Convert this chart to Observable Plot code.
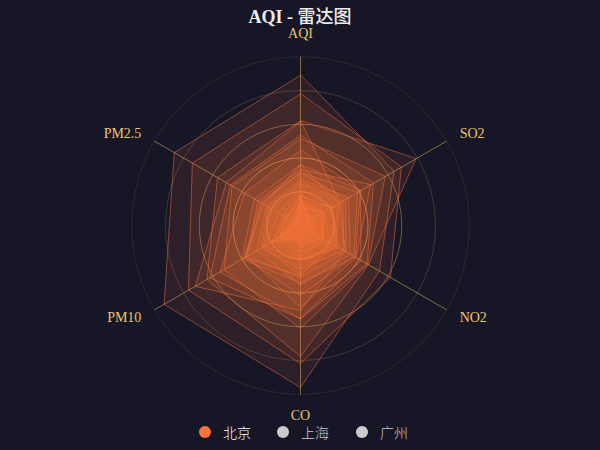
<!DOCTYPE html>
<html><head><meta charset="utf-8">
<script src="https://cdn.jsdelivr.net/npm/d3@7"></script>
<script src="https://cdn.jsdelivr.net/npm/@observablehq/plot@0.6"></script>
<style>
html,body{margin:0;padding:0;background:#161627;}
#wrap{width:600px;height:450px;background:#161627;overflow:hidden;font-family:"Liberation Serif","Noto Sans CJK SC",serif;}
#title{height:28px;box-sizing:border-box;padding-top:2px;line-height:26px;text-align:center;font-size:18px;font-weight:bold;color:#eee;}
#title .lat{font-family:"Liberation Serif",serif;}
#title .cjk{font-family:"Noto Sans CJK SC",sans-serif;font-weight:500;}
#chart svg{display:block;}
#legend{height:28px;position:relative;}
.item{position:absolute;top:0;height:20px;line-height:20px;font-size:14px;font-family:"Noto Sans CJK SC","Liberation Serif",sans-serif;font-weight:300;white-space:nowrap;}
.sw{position:absolute;top:4px;width:12px;height:12px;border-radius:50%;}
</style></head><body>
<div id="wrap"><div id="title"><span class="lat">AQI - </span><span class="cjk">雷达图</span></div><div id="chart"></div><div id="legend"></div></div>
<script>
const indicators = ["AQI", "PM2.5", "PM10", "CO", "NO2", "SO2"];
const indicatorMax = [300, 250, 300, 5, 200, 100];
const seriesNames = ["北京", "上海", "广州"];
const seriesColors = ["#F9713C", "#B3E4A1", "rgb(238, 197, 102)"];
const selectedSeries = "北京";
// AQI, PM2.5, PM10, CO, NO2, SO2, day
const dataBJ = [
  [55, 9, 56, 0.46, 18, 6, 1],
  [25, 11, 21, 0.65, 34, 9, 2],
  [56, 7, 63, 0.3, 14, 5, 3],
  [33, 7, 29, 0.33, 16, 6, 4],
  [42, 24, 44, 0.76, 40, 16, 5],
  [82, 58, 90, 1.77, 68, 33, 6],
  [74, 49, 77, 1.46, 48, 27, 7],
  [78, 55, 80, 1.29, 59, 29, 8],
  [267, 216, 280, 4.8, 108, 64, 9],
  [185, 127, 216, 2.52, 61, 27, 10],
  [39, 19, 38, 0.57, 31, 15, 11],
  [41, 11, 40, 0.43, 21, 7, 12],
  [64, 38, 74, 1.04, 46, 22, 13],
  [108, 79, 120, 1.7, 75, 41, 14],
  [108, 63, 116, 1.48, 44, 26, 15],
  [33, 6, 29, 0.34, 13, 5, 16],
  [94, 66, 110, 1.54, 62, 31, 17],
  [186, 142, 192, 3.88, 93, 79, 18],
  [57, 31, 54, 0.96, 32, 14, 19],
  [22, 8, 17, 0.48, 23, 10, 20],
  [39, 15, 36, 0.61, 29, 13, 21],
  [94, 69, 114, 2.08, 73, 39, 22],
  [99, 73, 110, 2.43, 76, 48, 23],
  [31, 12, 30, 0.5, 32, 16, 24],
  [42, 27, 43, 1, 53, 22, 25],
  [154, 117, 157, 3.05, 92, 58, 26],
  [234, 185, 230, 4.09, 123, 69, 27],
  [160, 120, 186, 2.77, 91, 50, 28],
  [134, 96, 165, 2.76, 83, 41, 29],
  [52, 24, 60, 1.03, 50, 21, 30],
  [46, 5, 49, 0.28, 10, 6, 31]
];
const splitLevels = [0.2, 0.4, 0.6, 0.8, 1.0];
const splitOpacities = [0.8, 0.6, 0.4, 0.2, 0.1];

const W = 600, H = 394, cx = 300, cy = 197, R = 168.75, nameGap = 15;
const angle = i => Math.PI / 2 + i * Math.PI / 3;
const points = [];
dataBJ.forEach(row => indicators.forEach((name, i) => points.push({day: row[6], i, v: row[i] / indicatorMax[i]})));
const axes = indicators.map((name, i) => ({name, i, a: angle(i)}));
const lr = (R + nameGap) / R;
const lx = d => lr * Math.cos(d.a), ly = d => lr * Math.sin(d.a);
const labelStyle = {fill: "rgb(238, 197, 102)", fontSize: 14, fontFamily: "Liberation Serif"};

const chart = Plot.plot({
  width: W, height: H, margin: 0,
  style: {background: "transparent", overflow: "visible"},
  x: {domain: [-1, 1], range: [cx - R, cx + R], axis: null},
  y: {domain: [-1, 1], range: [cy + R, cy - R], axis: null},
  r: {type: "linear", domain: [0, 1], range: [0, R]},
  marks: [
    Plot.dot(splitLevels, {x: 0, y: 0, r: d => d, stroke: (d, k) => `rgba(238, 197, 102, ${splitOpacities[k]})`, fill: "none", strokeWidth: 1}),
    Plot.link(axes, {x1: 0, y1: 0, x2: d => Math.cos(d.a), y2: d => Math.sin(d.a), stroke: "rgba(238, 197, 102, 0.5)", strokeWidth: 1}),
    Plot.line(points, {
      x: d => d.v * Math.cos(angle(d.i)), y: d => d.v * Math.sin(angle(d.i)), z: "day",
      curve: "linear-closed", stroke: "#F9713C", strokeOpacity: 0.5, strokeWidth: 1,
      fill: "#F9713C", fillOpacity: 0.1
    }),
    Plot.text(axes.filter(d => Math.cos(d.a) > 0.01), {x: lx, y: ly, text: "name", textAnchor: "start", lineAnchor: "middle", ...labelStyle}),
    Plot.text(axes.filter(d => Math.cos(d.a) < -0.01), {x: lx, y: ly, text: "name", textAnchor: "end", lineAnchor: "middle", ...labelStyle}),
    Plot.text(axes.filter(d => Math.abs(Math.cos(d.a)) <= 0.01 && Math.sin(d.a) > 0), {x: lx, y: ly, text: "name", textAnchor: "middle", lineAnchor: "bottom", dy: -4, ...labelStyle}),
    Plot.text(axes.filter(d => Math.abs(Math.cos(d.a)) <= 0.01 && Math.sin(d.a) < 0), {x: lx, y: ly, text: "name", textAnchor: "middle", lineAnchor: "top", dy: 1, ...labelStyle})
  ]
});
document.getElementById("chart").appendChild(chart);

const legend = document.getElementById("legend");
const iconLeft = [199, 277, 356];
seriesNames.forEach((name, k) => {
  const on = name === selectedSeries;
  const sw = document.createElement("div");
  sw.className = "sw";
  sw.style.left = iconLeft[k] + "px";
  sw.style.background = on ? seriesColors[k] : "#ccc";
  legend.appendChild(sw);
  const t = document.createElement("div");
  t.className = "item";
  t.style.left = (iconLeft[k] + 24) + "px";
  t.style.color = on ? "#fff" : "#ccc";
  t.textContent = name;
  legend.appendChild(t);
});
</script>
</body></html>
